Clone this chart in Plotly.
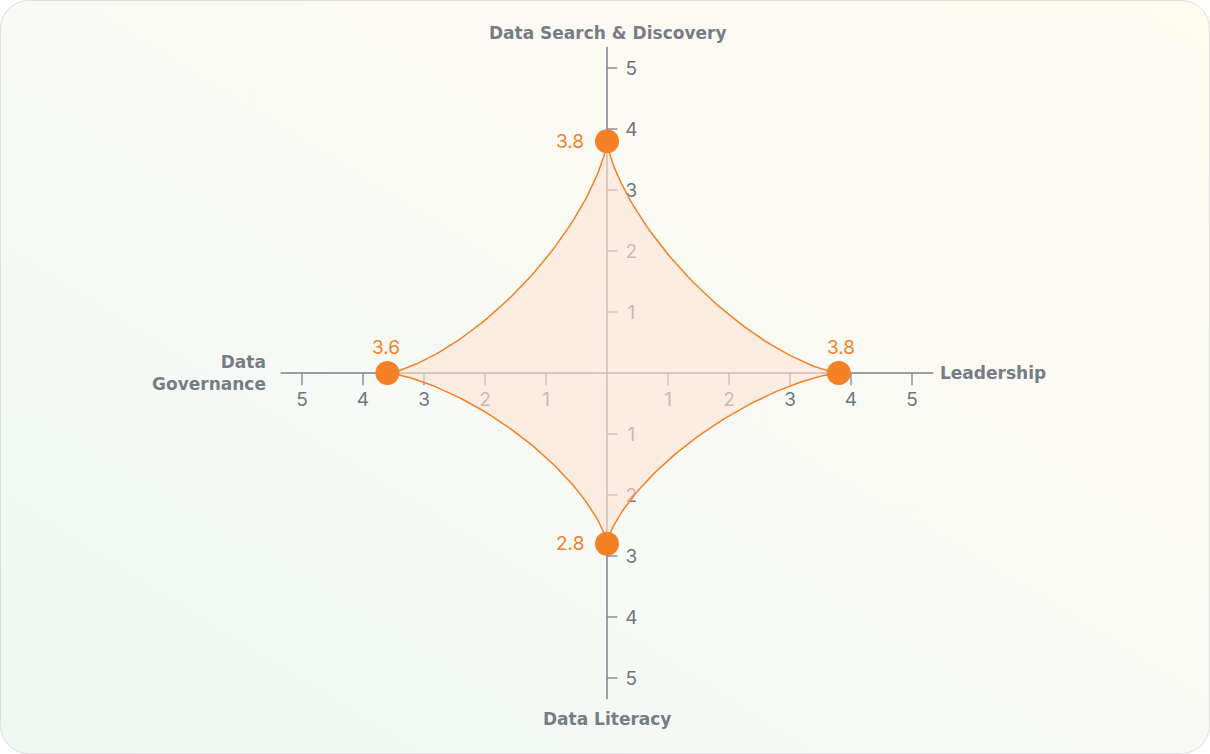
import base64
import numpy as np
import plotly.graph_objects as go

# ---- data ----
axis_names = ["Data Search & Discovery", "Leadership", "Data Literacy", "Data<br>Governance"]
scores = [3.8, 3.8, 2.8, 3.6]
tick_vals = [1, 2, 3, 4, 5]

# axis directions (up, right, down, left)
directions = [(0, 1), (1, 0), (0, -1), (-1, 0)]

W, H = 1210, 754
cx, cy, unit = 607, 373, 61  # centre in px and px per score point

ORANGE = "#f58126"
GRAY = "#7b828c"
FONT = "Inter, Roboto, sans-serif"
TITLE_FONT = "DejaVu Sans, sans-serif"

fig = go.Figure()

# axis lines
arm = 5.35
fig.add_trace(go.Scatter(x=[0, 0, None, -arm, arm], y=[arm, -arm, None, 0, 0],
                         mode="lines", line=dict(color=GRAY, width=1.5),
                         hoverinfo="skip"))

# tick marks
tx, ty = [], []
for v in tick_vals:
    for s in (1, -1):
        tx += [0, 0.17, None]
        ty += [s * v, s * v, None]
        tx += [s * v, s * v, None]
        ty += [0, -0.2, None]
fig.add_trace(go.Scatter(x=tx, y=ty, mode="lines", line=dict(color=GRAY, width=1.3),
                         hoverinfo="skip"))

# tick labels
lbl_x, lbl_y, lbl_t = [], [], []
for v in tick_vals:
    for s in (1, -1):
        lbl_x += [0.4, s * v]
        lbl_y += [s * v - 0.03, -0.46]
        lbl_t += [str(v), str(v)]
fig.add_trace(go.Scatter(x=lbl_x, y=lbl_y, text=lbl_t, mode="text",
                         textfont=dict(family=FONT, size=19, color="#6f7782"),
                         hoverinfo="skip"))

# concave (astroid-like) shape between the score points
q = 2 / 0.72
phi = np.linspace(0, np.pi / 2, 80)
xs, ys = [], []
for i in range(len(scores)):
    j = (i + 1) % len(scores)
    u1, u2 = directions[i], directions[j]
    a = scores[i] * np.cos(phi) ** q
    b = scores[j] * np.sin(phi) ** q
    xs += list(a * u1[0] + b * u2[0])
    ys += list(a * u1[1] + b * u2[1])
fig.add_trace(go.Scatter(x=xs, y=ys, mode="lines", fill="toself",
                         fillcolor="rgba(254,228,213,0.62)",
                         line=dict(color=ORANGE, width=1.5), hoverinfo="skip"))

# score points
px_ = [d[0] * s for d, s in zip(directions, scores)]
py_ = [d[1] * s for d, s in zip(directions, scores)]
fig.add_trace(go.Scatter(x=px_, y=py_, mode="markers",
                         marker=dict(size=24, color=ORANGE)))

# value labels
offsets = [dict(xanchor="right", xshift=-21, yshift=0),
           dict(xanchor="center", xshift=2, yshift=26),
           dict(xanchor="right", xshift=-21, yshift=0),
           dict(xanchor="center", xshift=-1, yshift=26)]
for x, y, s, o in zip(px_, py_, scores, offsets):
    fig.add_annotation(x=x, y=y, text=f"{s:.1f}", showarrow=False,
                       font=dict(family=FONT, size=19, color=ORANGE),
                       yanchor="middle", **o)

# axis titles
title_pos = [dict(x=0, y=(cy - 33) / unit, xanchor="center"),
             dict(x=(938 - cx) / unit, y=0, xanchor="left"),
             dict(x=0, y=(cy - 719) / unit, xanchor="center"),
             dict(x=(268 - cx) / unit, y=0, xanchor="right")]
for name, p in zip(axis_names, title_pos):
    fig.add_annotation(text=f"<b>{name}</b>", showarrow=False, align="right",
                       yanchor="middle",
                       font=dict(family=TITLE_FONT, size=17, color="#767d87"), **p)

# soft gradient card behind the chart
svg = (f'<svg xmlns="http://www.w3.org/2000/svg" width="{W}" height="{H}">'
       '<defs><linearGradient id="g" x1="0" y1="1" x2="1" y2="0">'
       '<stop offset="0" stop-color="#eef8f3"/>'
       '<stop offset="0.5" stop-color="#f9faf5"/>'
       '<stop offset="1" stop-color="#fefbef"/>'
       '</linearGradient></defs>'
       f'<rect x="0.5" y="0.5" width="{W - 1}" height="{H - 1}" rx="28" '
       'fill="url(#g)" stroke="#dedede"/></svg>')
bg = "data:image/svg+xml;base64," + base64.b64encode(svg.encode()).decode()

fig.update_layout(
    width=W, height=H, autosize=False,
    margin=dict(l=0, r=0, t=0, b=0),
    showlegend=False,
    paper_bgcolor="white", plot_bgcolor="rgba(0,0,0,0)",
    xaxis=dict(visible=False, range=[-cx / unit, (W - cx) / unit], fixedrange=True),
    yaxis=dict(visible=False, range=[(cy - H) / unit, cy / unit], fixedrange=True),
    images=[dict(source=bg, xref="paper", yref="paper", x=0, y=1,
                 sizex=1, sizey=1, sizing="stretch", layer="below")],
)

# page body has a default 8px margin, drop it so the card fills the window
fig.write_html("out.html", config={"displayModeBar": False},
               post_script="document.body.style.margin='0';")
